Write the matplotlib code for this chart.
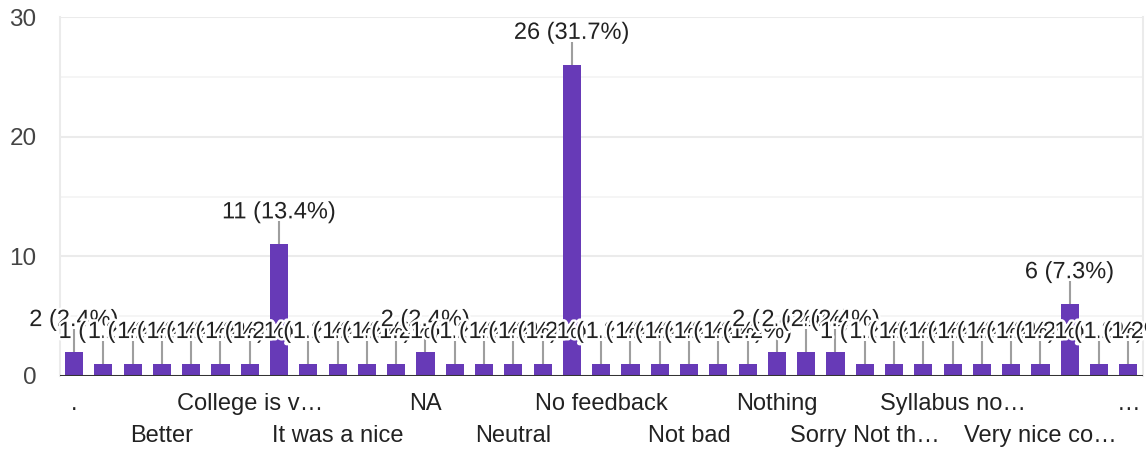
import matplotlib
matplotlib.use("Agg")
import matplotlib.pyplot as plt
import matplotlib.patheffects as pe
import numpy as np

# ---- data ----
counts = [2, 1, 1, 1, 1, 1, 1, 11, 1, 1, 1, 1, 2, 1, 1, 1, 1, 26, 1, 1, 1,
          1, 1, 1, 2, 2, 2, 1, 1, 1, 1, 1, 1, 1, 6, 1, 1]
total = 82
tick_labels = [".", "", "", "Better", "", "", "College is v\u2026", "", "",
               "It was a nice", "", "", "NA", "", "", "Neutral", "", "",
               "No feedback", "", "", "Not bad", "", "", "Nothing", "", "",
               "Sorry Not th\u2026", "", "", "Syllabus no\u2026", "", "",
               "Very nice co\u2026", "", "", "\u2026"]
y_ticks = [0, 10, 20, 30]

plt.rcParams['font.family'] = ['Liberation Sans', 'DejaVu Sans']
W, H = 1146, 449
fig = plt.figure(figsize=(W / 100, H / 100), dpi=100)
left, right, top, bottom = 60, 1143, 17, 376
ax = fig.add_axes([left / W, (H - bottom) / H, (right - left) / W, (bottom - top) / H])

x = np.arange(len(counts))
ax.bar(x, counts, width=0.62, color="#673ab7", zorder=2)

ax.set_xlim(-0.48, 36.5)
ax.set_ylim(0, 30)
px_per_unit = (bottom - top) / 30.0
stem = 23 / px_per_unit
txt_off = 32 / px_per_unit

for i, c in enumerate(counts):
    ax.plot([i, i], [c, c + stem], color="#9e9e9e", lw=1.5, zorder=3, solid_capstyle="butt")
for i, c in enumerate(counts):
    pct = c / total * 100
    t = ax.text(i, c + txt_off, f"{c} ({pct:.1f}%)", ha="center", va="center",
                fontsize=17, color="#222222", zorder=4 + i * 0.01, clip_on=False)
    t.set_path_effects([pe.withStroke(linewidth=3.5, foreground="white")])

# grid
for v in [5, 15, 25]:
    ax.axhline(v, color="#f4f4f4", lw=1.2, zorder=0)
for v in [10, 20, 30]:
    ax.axhline(v, color="#ebebeb", lw=1.5, zorder=0)
ax.axhline(0, color="#333333", lw=2.2, zorder=5)

for s in ["top", "bottom"]:
    ax.spines[s].set_visible(False)
for s in ["left", "right"]:
    ax.spines[s].set_color("#ebebeb")
    ax.spines[s].set_linewidth(1.5)

ax.set_yticks(y_ticks)
ax.set_yticklabels([str(v) for v in y_ticks], fontsize=17.5, color="#444444")
ax.tick_params(axis="y", length=0, pad=17)

ax.set_xticks([])
row = 0
for i, lab in enumerate(tick_labels):
    if lab:
        ypix = 404 if row % 2 == 0 else 436
        fig.text((left + (i + 0.48) * (right - left) / 36.98) / W, 1 - ypix / H, lab,
                 ha="center", va="center", fontsize=17, color="#222222")
        row += 1

fig.savefig("out.png", dpi=100)
